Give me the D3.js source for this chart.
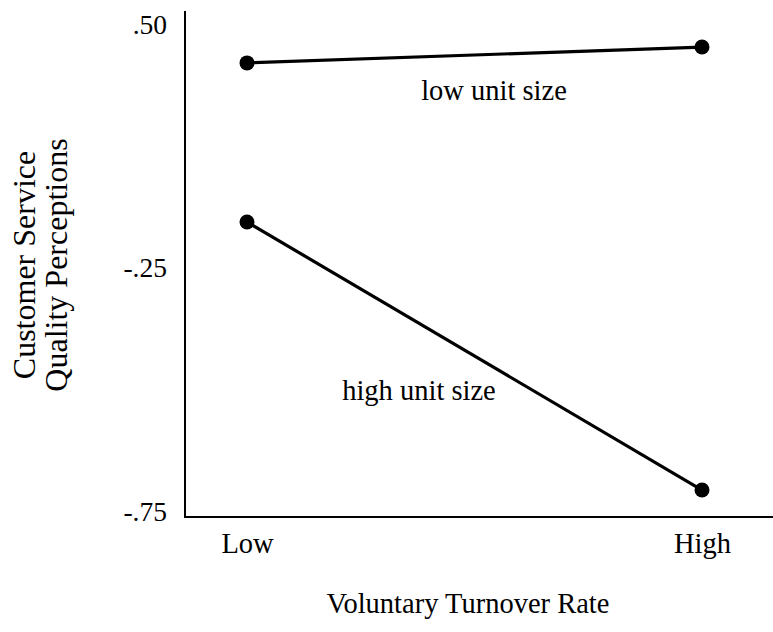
<!DOCTYPE html>
<html>
<head>
<meta charset="utf-8">
<script src="https://cdn.jsdelivr.net/npm/d3@7/dist/d3.min.js"></script>
<style>
  body { margin: 0; background: #fff; }
  text { font-family: "Liberation Serif", "DejaVu Serif", serif; fill: #000; }
</style>
</head>
<body>
<div id="chart"></div>
<script>
// categories and values
var turnover = ["Low", "High"];
var lowUnitSize = [0.383, 0.432];
var highUnitSize = [-0.108, -0.705];
var seriesNames = ["low unit size", "high unit size"];
var yTicks = [0.5, -0.25, -0.75];
var yTickLabels = [".50", "-.25", "-.75"];

var width = 773,
	height = 632,
	fontSize = 28.5;

var svg = d3.select("#chart").append("svg")
	.attr("width", width)
	.attr("height", height);

var axisX = 185, axisBottom = 517, axisTop = 11;

var x = d3.scalePoint()
	.domain(turnover)
	.range([247, 702]);

// the printed axis spaces its three labels evenly, so the scale is piecewise
var y = d3.scaleLinear()
	.domain(yTicks)
	.range([25, 268, 512]);

// axes lines
svg.append("line")
	.attr("x1", axisX).attr("x2", axisX)
	.attr("y1", axisTop).attr("y2", axisBottom + 1)
	.attr("stroke", "#000").attr("stroke-width", 2);
svg.append("line")
	.attr("x1", axisX).attr("x2", width)
	.attr("y1", axisBottom).attr("y2", axisBottom)
	.attr("stroke", "#000").attr("stroke-width", 2);

// y tick labels
var yAxis = d3.axisLeft(y)
	.tickValues(yTicks)
	.tickSize(0)
	.tickPadding(0)
	.tickFormat(function (d, i) { return yTickLabels[i]; });
var gy = svg.append("g")
	.attr("transform", "translate(167,0)")
	.call(yAxis);
gy.select(".domain").remove();
gy.selectAll("text")
	.attr("font-family", "Liberation Serif")
	.attr("font-size", 27.5);

// x tick labels
var xAxis = d3.axisBottom(x).tickSize(0).tickPadding(0);
var gx = svg.append("g")
	.attr("transform", "translate(0,533)")
	.call(xAxis);
gx.select(".domain").remove();
gx.selectAll("text")
	.attr("font-family", "Liberation Serif")
	.attr("font-size", fontSize);

// axis titles
svg.append("text")
	.attr("x", 468).attr("y", 613)
	.attr("text-anchor", "middle")
	.attr("font-size", fontSize)
	.text("Voluntary Turnover Rate");

var yTitle = svg.append("text")
	.attr("transform", "translate(0,265) rotate(-90)")
	.attr("text-anchor", "middle")
	.attr("font-size", 32);
yTitle.append("tspan").attr("x", 0).attr("y", 35).text("Customer Service");
yTitle.append("tspan").attr("x", 0).attr("y", 67).text("Quality Perceptions");

// lines and points
var line = d3.line()
	.x(function (d, i) { return x(turnover[i]); })
	.y(function (d) { return y(d); });

[lowUnitSize, highUnitSize].forEach(function (series) {
	svg.append("path")
		.datum(series)
		.attr("fill", "none")
		.attr("stroke", "#000")
		.attr("stroke-width", 3.2)
		.attr("d", line);
	svg.selectAll(null)
		.data(series)
		.enter().append("circle")
		.attr("cx", function (d, i) { return x(turnover[i]); })
		.attr("cy", function (d) { return y(d); })
		.attr("r", 7.5)
		.attr("fill", "#000");
});

// series labels
svg.append("text")
	.attr("x", 494).attr("y", 100)
	.attr("text-anchor", "middle")
	.attr("font-size", fontSize)
	.text(seriesNames[0]);
svg.append("text")
	.attr("x", 419).attr("y", 400)
	.attr("text-anchor", "middle")
	.attr("font-size", fontSize)
	.text(seriesNames[1]);
</script>
</body>
</html>
